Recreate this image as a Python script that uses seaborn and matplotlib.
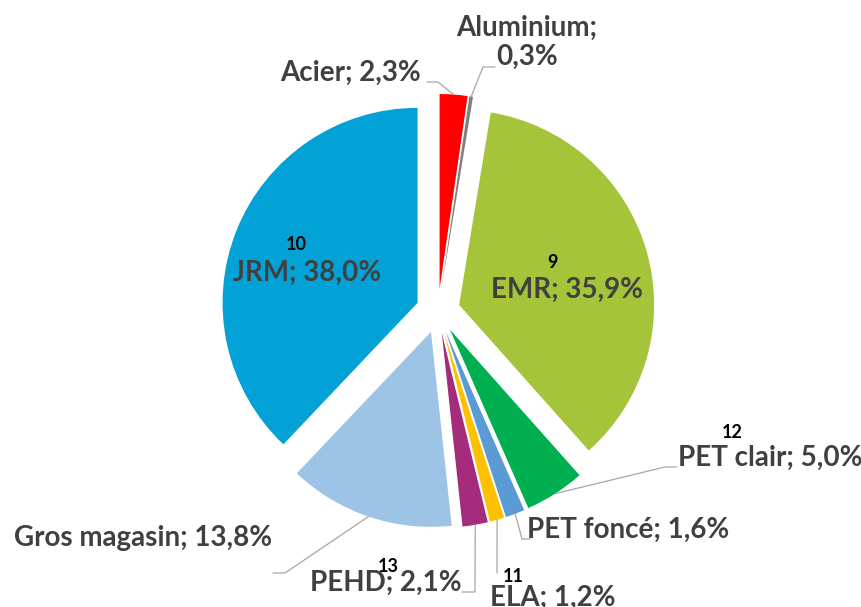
import numpy as np
import matplotlib
matplotlib.use("Agg")
import matplotlib.pyplot as plt
import seaborn as sns

# parts des flux (ordre horaire depuis le haut)
labels = ["Acier", "Aluminium", "EMR", "PET clair", "PET foncé", "ELA", "PEHD", "Gros magasin", "JRM"]
parts = [2.3, 0.3, 35.9, 5.0, 1.6, 1.2, 2.1, 13.8, 38.0]
numeros = ["", "", "9", "12", "", "11", "13", "", "10"]
couleurs = ["#FF0000", "#7F7F7F", "#A5C43A", "#00B050", "#5B9BD5", "#FFC000", "#A52C7C", "#9DC3E6", "#02A1D6"]

sns.set_style("white")
plt.rcParams["font.family"] = ["Lato", "DejaVu Sans"]

W, H = 861, 607
fig = plt.figure(figsize=(W / 100, H / 100), dpi=100)
ax = fig.add_axes([0, 0, 1, 1])

centre = (438, H - 311)
rayon = 195
# explode en unites absolues (pixels ici)
wedges, _ = ax.pie(parts, colors=couleurs, startangle=90, counterclock=False,
                   explode=[22] * len(parts), center=centre, radius=rayon,
                   wedgeprops=dict(linewidth=0))

ax.set_xlim(0, W)
ax.set_ylim(0, H)
ax.set_aspect("equal")
ax.axis("off")

gris = "#404040"
fs = 20

def txt(s):
    return s.replace(".", ",")

# positions des etiquettes (pixels image), alignement, coudes du trait de rappel
place = {
    "Acier": (421, 73, "right", [(438, 82), (427, 82)]),
    "Aluminium": (527, 42, "center", [(483, 67), (495, 67)]),
    "EMR": (567, 290, "center", None),
    "PET clair": (770, 458, "center", [(665, 467), (677, 467)]),
    "PET foncé": (628, 530, "center", [(522, 539), (530, 539)]),
    "ELA": (553, 598, "center", [(497, 573)]),
    "PEHD": (386, 583, "center", [(475, 592), (462, 592)]),
    "Gros magasin": (143, 538, "center", [(285, 573), (273, 573)]),
    "JRM": (307, 273, "center", None),
}
pos_num = {"EMR": (552, 263), "PET clair": (732, 432), "ELA": (513, 577),
           "PEHD": (388, 566), "JRM": (296, 245)}

for w, lab, val, num in zip(wedges, labels, parts, numeros):
    x, y, ha, coudes = place[lab]
    if lab == "Aluminium":
        s = f"{lab};\n{txt(f'{val:.1f}')}%"
    else:
        s = f"{lab}; {txt(f'{val:.1f}')}%"
    ax.text(x, H - y, s, ha=ha, va="center", fontsize=fs, fontweight="bold",
            color=gris, linespacing=1.15)
    if num:
        nx, ny = pos_num[lab]
        ax.text(nx, H - ny, num, ha="center", va="center", fontsize=13,
                fontweight="bold", color="black")
    if coudes:
        a = np.deg2rad((w.theta1 + w.theta2) / 2)
        cx, cy = w.center
        xs = [cx + w.r * np.cos(a)] + [p[0] for p in coudes]
        ys = [cy + w.r * np.sin(a)] + [H - p[1] for p in coudes]
        ax.plot(xs, ys, color="#A6A6A6", lw=0.9)

fig.savefig("out.png", dpi=100)
